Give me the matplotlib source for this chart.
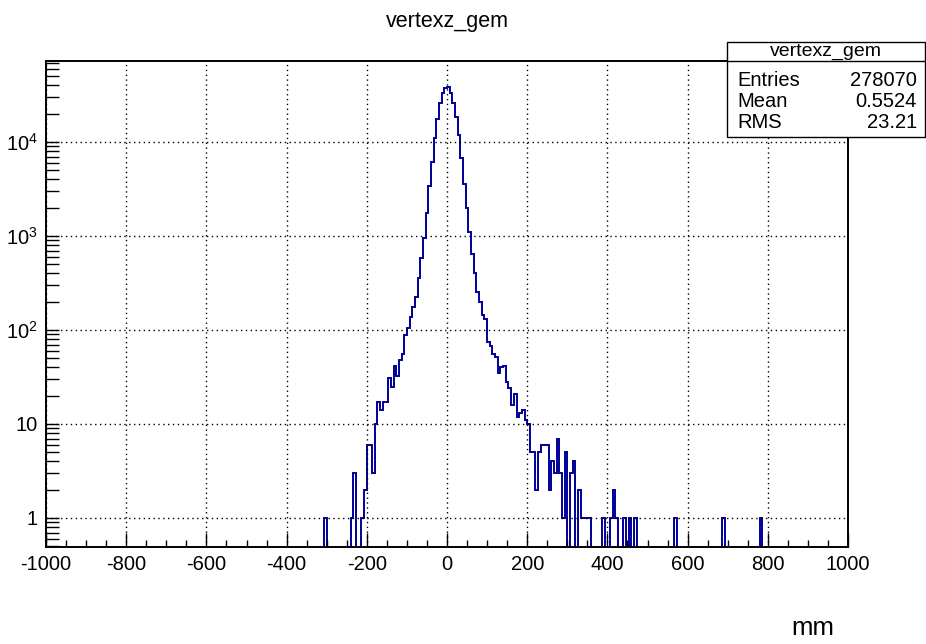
"""
vertexz_gem histogram (ROOT style) re-drawn with matplotlib.
300 bins from -1000 to 1000 mm, log y axis, stats box top right.
"""
import numpy as np
import matplotlib
matplotlib.use("Agg")
import matplotlib.pyplot as plt
from matplotlib.patches import Rectangle
from matplotlib.lines import Line2D
from matplotlib.ticker import FixedLocator, LogLocator, NullFormatter

plt.rcParams["font.family"] = ["Liberation Sans", "DejaVu Sans"]
plt.rcParams["mathtext.fontset"] = "custom"
plt.rcParams["mathtext.rm"] = "Liberation Sans"

# ---------- data ----------
HIST_NAME = "vertexz_gem"
X_TITLE = "mm"
N_BINS = 300
X_MIN, X_MAX = -1000, 1000

# bin index 0 = [0, 6.67) mm; contiguous part starts at bin -36
CORE_FIRST_BIN = -36
core_counts = [
    1, 3, 0, 0, 1, 2, 6, 6, 3, 10,                      # -36 .. -27
    17, 14, 17, 17, 31, 25, 41, 32, 48, 56,             # -26 .. -17
    88, 104, 139, 177, 226, 355, 579, 960, 1742, 3400,  # -16 .. -7
    6180, 10900, 17400, 25800, 33500, 37500,            # -6 .. -1
    38200, 33500, 26200, 18600, 11900, 6700, 3575, 1970, 1112, 644,  # 0 .. 9
    407, 256, 200, 144, 130, 75, 67, 56, 52, 35,        # 10 .. 19
    40, 41, 28, 24, 16, 21, 12, 13, 14, 11,             # 20 .. 29
    10, 5, 5, 2, 5, 6, 6, 6, 2, 4,                      # 30 .. 39
    3, 7, 3, 1, 5, 0, 3, 4, 0, 2,                       # 40 .. 49
    1, 1, 1, 1,                                         # 50 .. 53
]
outlier_bins = [-46, 58, 61, 62, 63, 66, 68, 70, 85, 103, 117]
outlier_counts = [1, 1, 1, 2, 1, 1, 1, 1, 1, 1, 1]

stat_labels = ["Entries", "Mean", "RMS"]
stat_values = ["278070", "0.5524", "23.21"]

x_major = list(range(-1000, 1001, 200))
y_major = [1, 10, 100, 1000, 10000]
y_major_labels = ["1", "10", r"$\mathregular{10^{2}}$",
                  r"$\mathregular{10^{3}}$", r"$\mathregular{10^{4}}$"]


def build_counts():
    counts = np.zeros(N_BINS)
    offset = N_BINS // 2  # bin index 0 sits at x = 0
    start = offset + CORE_FIRST_BIN
    counts[start:start + len(core_counts)] = core_counts
    for b, c in zip(outlier_bins, outlier_counts):
        counts[offset + b] = c
    return counts


# ---------- figure ----------
W, H = 926, 644
fig = plt.figure(figsize=(W / 100, H / 100), dpi=100)

# frame in pixel units (left, right, top, bottom)
L, R, T, B = 46, 848, 60.7, 547
ax = fig.add_axes([L / W, 1 - B / H, (R - L) / W, (B - T) / H])

counts = build_counts()
edges = np.linspace(X_MIN, X_MAX, N_BINS + 1)

ax.set_yscale("log", nonpositive="clip")
ax.stairs(counts, edges, color="#000099", linewidth=1.4, baseline=None)

ax.set_xlim(X_MIN, X_MAX)
ax.set_ylim(0.491, 73300)

# ticks
ax.set_xticks(x_major)
ax.set_xticklabels([str(v) for v in x_major])
ax.xaxis.set_minor_locator(FixedLocator(list(range(-1000, 1001, 50))))
ax.yaxis.set_major_locator(FixedLocator(y_major))
ax.set_yticklabels(y_major_labels)
ax.yaxis.set_minor_locator(LogLocator(base=10, subs=np.arange(2, 10)))
ax.yaxis.set_minor_formatter(NullFormatter())

ax.tick_params(which="both", direction="in", top=False, right=False,
               labelsize=14.5, width=1.0, color="black")
ax.tick_params(axis="x", which="major", length=10, pad=6)
ax.tick_params(axis="x", which="minor", length=5)
ax.tick_params(axis="y", which="major", length=9.5, pad=6)
ax.tick_params(axis="y", which="minor", length=9)

ax.grid(True, which="major", color="black", linestyle=(0, (1, 2.5)), linewidth=1.0)
for s in ax.spines.values():
    s.set_linewidth(1.4)

# title + axis title
fig.text(447 / W, 1 - 22 / H, HIST_NAME, ha="center", va="center", fontsize=15.5)
fig.text(834 / W, 1 - 628 / H, X_TITLE, ha="right", va="center", fontsize=18.5)

# ---------- stats box ----------
bx0, bx1, by0, by1 = 727, 925, 41.7, 136.7
fig.patches.append(Rectangle((bx0 / W, 1 - by1 / H), (bx1 - bx0) / W, (by1 - by0) / H,
                             transform=fig.transFigure, facecolor="white",
                             edgecolor="black", linewidth=1.0, zorder=5))
fig.lines.append(Line2D([bx0 / W, bx1 / W], [1 - 60.7 / H, 1 - 60.7 / H],
                        transform=fig.transFigure, color="black", linewidth=1.0, zorder=6))
fig.text((bx0 + bx1) / 2 / W, 1 - 51.5 / H, HIST_NAME, ha="center", va="center",
         fontsize=14, zorder=7)
for i, (lab, val) in enumerate(zip(stat_labels, stat_values)):
    y = 1 - (80.5 + 21 * i) / H
    fig.text(737 / W, y, lab, ha="left", va="center", fontsize=14.5, zorder=7)
    fig.text(917 / W, y, val, ha="right", va="center", fontsize=14.5, zorder=7)

fig.savefig("out.png", dpi=100)
